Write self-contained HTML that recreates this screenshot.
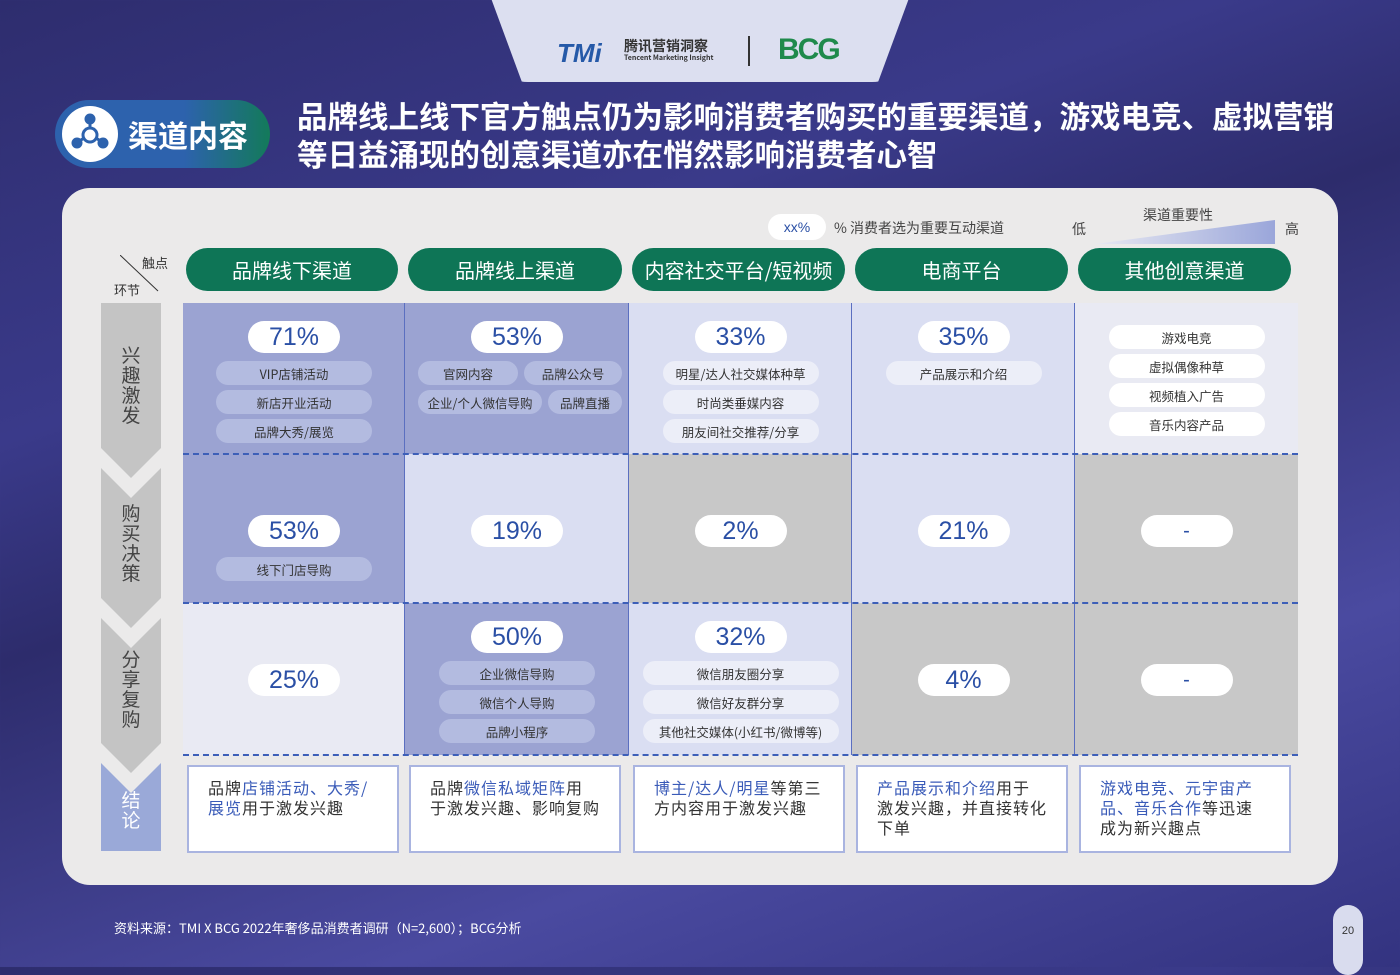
<!DOCTYPE html>
<html><head><meta charset="utf-8">
<style>
*{margin:0;padding:0;box-sizing:border-box}
body{width:1400px;height:967px;overflow:hidden;position:relative;font-family:"Liberation Sans","Noto Sans CJK SC",sans-serif;background:linear-gradient(160deg,#2e2d6e 0%,#3a3a8a 30%,#2d2c6c 45%,#4a4aa0 75%,#333380 100%)}
.abs{position:absolute}
.tab{left:488px;top:-10px;width:424px;height:92px;background:#dcdff0;border-radius:0 0 40px 40px;clip-path:polygon(0 0,100% 0,92% 100%,8% 100%)}
.panel{left:62px;top:188px;width:1276px;height:697px;background:#ebeaea;border-radius:28px}
.hdr{height:43px;top:248px;background:#0e7556;color:#fff;border-radius:22px;font-size:20px;display:flex;align-items:center;justify-content:center;font-family:"Noto Sans CJK SC",sans-serif}
.cell{border-right:1px solid #5b6fc0}
.pct{background:#fff;border-radius:16px;width:92px;height:32px;color:#2a4fa5;font-size:25px;display:flex;align-items:center;justify-content:center;font-family:"Liberation Sans",sans-serif}
.chip{border-radius:12px;height:24px;font-size:12.5px;color:#333;display:flex;align-items:center;justify-content:center;font-family:"Noto Sans CJK SC",sans-serif}
.concl{top:765px;height:88px;width:212px;background:#fff;border:2px solid #a9b4e0;padding:10px 19px;font-size:16px;line-height:20px;color:#333;letter-spacing:1px;font-family:"Noto Sans CJK SC",sans-serif}
.concl b{font-weight:normal;color:#3a5bb8}
.vt{color:#444;font-size:19px;line-height:20px;width:20px;text-align:center;font-family:"Noto Sans CJK SC",sans-serif}
</style></head><body>
<div class="abs tab"></div>
<div class="abs" style="left:557px;top:38px;font-size:26px;font-weight:bold;color:#2559a8;font-style:italic">TMi</div>
<div class="abs" style="left:624px;top:38px;font-size:14px;font-weight:bold;color:#333;font-family:'Noto Sans CJK SC',sans-serif;line-height:16px">腾讯营销洞察<br><span style="font-size:7px;display:block;line-height:8px">Tencent Marketing Insight</span></div>
<div class="abs" style="left:748px;top:36px;width:2px;height:30px;background:#333"></div>
<div class="abs" style="left:778px;top:33px;font-size:30px;font-weight:bold;color:#1f8a4c;letter-spacing:-2px">BCG</div>

<div class="abs" style="left:55px;top:100px;width:215px;height:68px;border-radius:34px;background:linear-gradient(90deg,#2d62ad 60%,#137a5a)"></div>
<div class="abs" style="left:62px;top:106px;width:56px;height:56px;border-radius:50%;background:#fff">
<svg width="56" height="56" viewBox="0 0 56 56"><g fill="#2d62ad" stroke="#2d62ad" stroke-width="3"><line x1="28" y1="14" x2="28" y2="28"/><line x1="16" y1="36" x2="28" y2="28"/><line x1="40" y1="36" x2="28" y2="28"/><circle cx="28" cy="13" r="4"/><circle cx="15" cy="37" r="4"/><circle cx="41" cy="37" r="4"/><circle cx="28" cy="29" r="7" fill="#fff"/></g></svg></div>
<div class="abs" style="left:128px;top:112px;font-size:30px;font-weight:bold;color:#fff;font-family:'Noto Sans CJK SC',sans-serif">渠道内容</div>
<div class="abs" style="left:297px;top:96px;font-size:30.5px;line-height:38px;font-weight:bold;color:#fff;font-family:'Noto Sans CJK SC',sans-serif;width:1080px">品牌线上线下官方触点仍为影响消费者购买的重要渠道，游戏电竞、虚拟营销<br>等日益涌现的创意渠道亦在悄然影响消费者心智</div>

<div class="abs panel"></div>

<div class="abs" style="left:768px;top:214px;width:58px;height:26px;background:#fff;border-radius:13px;color:#2a4fa5;font-size:14px;display:flex;align-items:center;justify-content:center">xx%</div>
<div class="abs" style="left:834px;top:218px;font-size:14px;color:#444;font-family:'Noto Sans CJK SC',sans-serif">% 消费者选为重要互动渠道</div>
<div class="abs" style="left:1072px;top:219px;font-size:14px;color:#444;font-family:'Noto Sans CJK SC',sans-serif">低</div>
<div class="abs" style="left:1143px;top:205px;font-size:14px;color:#444;font-family:'Noto Sans CJK SC',sans-serif">渠道重要性</div>
<svg class="abs" style="left:1095px;top:220px" width="180" height="24"><defs><linearGradient id="g"><stop offset="0" stop-color="#e8e9f2"/><stop offset="1" stop-color="#9aa6da"/></linearGradient></defs><polygon points="0,24 180,0 180,24" fill="url(#g)"/></svg>
<div class="abs" style="left:1285px;top:219px;font-size:14px;color:#444;font-family:'Noto Sans CJK SC',sans-serif">高</div>

<div class="abs" style="left:142px;top:253px;font-size:13px;color:#333;font-family:'Noto Sans CJK SC',sans-serif">触点</div>
<div class="abs" style="left:114px;top:280px;font-size:13px;color:#333;font-family:'Noto Sans CJK SC',sans-serif">环节</div>
<svg class="abs" style="left:120px;top:255px" width="42" height="40"><line x1="0" y1="0" x2="38" y2="36" stroke="#333" stroke-width="1"/></svg>

<div id="hdrs"></div>

<svg class="abs" style="left:101px;top:303px" width="60" height="550">
<polygon points="0,0 60,0 60,145 30,175 0,145" fill="#c4c4c4"/>
<polygon points="0,165 30,195 60,165 60,295 30,325 0,295" fill="#c4c4c4"/>
<polygon points="0,315 30,345 60,315 60,440 30,470 0,440" fill="#c4c4c4"/>
<polygon points="0,460 30,490 60,460 60,548 0,548" fill="#9aa9d8"/>
</svg>
<div class="abs vt" style="left:121px;top:345px">兴趣激发</div>
<div class="abs vt" style="left:121px;top:503px">购买决策</div>
<div class="abs vt" style="left:121px;top:649px">分享复购</div>
<div class="abs vt" style="left:121px;top:790px;color:#fff">结论</div>

<div id="grid"></div>

<div class="abs" style="left:114px;top:918px;font-size:13px;color:#fff;font-family:'Noto Sans CJK SC',sans-serif">资料来源：TMI X BCG 2022年奢侈品消费者调研（N=2,600）；BCG分析</div>
<div class="abs" style="left:1333px;top:905px;width:30px;height:70px;border-radius:15px;background:#d9dcee;font-size:11px;color:#333;text-align:center;padding-top:20px">20</div>

<script>
const channels=["品牌线下渠道","品牌线上渠道","内容社交平台/短视频","电商平台","其他创意渠道"];
const pctInterest=["71%","53%","33%","35%",null];
const pctPurchase=["53%","19%","2%","21%","-"];
const pctShare=["25%","50%","32%","4%","-"];
const chipsInterest=[["VIP店铺活动","新店开业活动","品牌大秀/展览"],[["官网内容","品牌公众号"],["企业/个人微信导购","品牌直播"]],["明星/达人社交媒体种草","时尚类垂媒内容","朋友间社交推荐/分享"],["产品展示和介绍"],["游戏电竞","虚拟偶像种草","视频植入广告","音乐内容产品"]];
const chipsPurchase=[["线下门店导购"],[],[],[],[]];
const chipsShare=[[],["企业微信导购","微信个人导购","品牌小程序"],["微信朋友圈分享","微信好友群分享","其他社交媒体(小红书/微博等)"],[],[]];
const shade=[["d","d","m","m","l"],["d","m","g","m","g"],["l","d","m","g","g"]];
const conclusions=['品牌<b>店铺活动、大秀/展览</b>用于激发兴趣','品牌<b>微信私域矩阵</b>用于激发兴趣、影响复购','<b>博主/达人/明星</b>等第三方内容用于激发兴趣','<b>产品展示和介绍</b>用于激发兴趣，并直接转化下单','<b>游戏电竞、元宇宙产品、音乐合作</b>等迅速成为新兴趣点'];
const colors={d:"#9ba3d2",m:"#dadef2",l:"#e9eaf3",g:"#c8c8c8"};
const chipBg={d:"#b3bbe0",m:"#eceef8",l:"#f4f4f9",g:"#e0e0e0"};
const colX=[183,405,629,852,1075,1298];
const rowY=[303,454,603,755];
const hdrs=document.getElementById('hdrs');
channels.forEach((c,i)=>{
 const h=document.createElement('div');h.className='abs hdr';
 h.style.left=(colX[i]+3)+'px';h.style.width=(colX[i+1]-colX[i]-10)+'px';h.textContent=c;
 
 
 hdrs.appendChild(h);
});
const grid=document.getElementById('grid');
function add(el){grid.appendChild(el);return el}
const pctRows=[pctInterest,pctPurchase,pctShare];
const chipRows=[chipsInterest,chipsPurchase,chipsShare];
for(let r=0;r<3;r++){for(let c=0;c<5;c++){
 const x=colX[c],w=colX[c+1]-colX[c],y=rowY[r],h=rowY[r+1]-rowY[r];
 const s=shade[r][c];
 const cell=document.createElement('div');cell.className='abs cell';
 cell.style.cssText+=`left:${x}px;top:${y}px;width:${w}px;height:${h}px;background:${colors[s]};`+(c==4?'border-right:none;':'');
 
 
 add(cell);
 const p=pctRows[r][c];let chips=chipRows[r][c];
 const nRows=chips.length;
 let top;
 const cx=x+w/2;
 if(p){
  if(r==0)top=y+18;
  else if(r==1)top=y+61;
  else top=nRows?y+18:y+61;
  const pe=document.createElement('div');pe.className='abs pct';
  pe.style.left=(cx-46)+'px';pe.style.top=top+'px';pe.textContent=p;
  if(p=='-'){pe.style.fontSize='20px'}
  
  
  add(pe);
  top+=(r==1?42:40);
 } else top=y+22;
 chips.forEach((ch,k)=>{
  const items=Array.isArray(ch)?ch:[ch];
  const totalW=Array.isArray(ch)?w-26:(c==2&&r==2?196:156);
  let cx0=cx-totalW/2;
  items.forEach((t,j)=>{
   const cw=Array.isArray(ch)?(j==0?(k==0?100:124):(k==0?98:74)):totalW;
   const e=document.createElement('div');e.className='abs chip';
   e.style.left=cx0+'px';e.style.top=(top+k*29)+'px';e.style.width=cw+'px';
   e.style.background=c==4&&r==0?'#fff':chipBg[s];
   e.textContent=t;
   
   
   add(e);cx0+=cw+6;
  });
 });
}}
[454,603,755].forEach(yy=>{
 const l=document.createElement('div');l.className='abs';
 l.style.cssText=`left:183px;top:${yy-1}px;width:1115px;border-top:2px dashed #3d5fb8`;
 
 
 add(l);
});
conclusions.forEach((t,i)=>{
 const e=document.createElement('div');e.className='abs concl';
 e.style.left=(colX[i]+4)+'px';
 e.innerHTML=t;
 
 
 add(e);
});
</script>
</body></html>
